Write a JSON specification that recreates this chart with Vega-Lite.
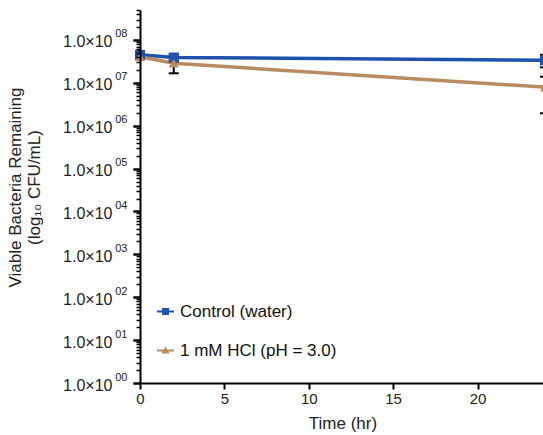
{
  "$schema": "https://vega.github.io/schema/vega-lite/v6.json",
  "width": 405,
  "height": 373,
  "autosize": {"type": "none"},
  "padding": {"left": 140, "top": 10, "right": 0, "bottom": 52},
  "config": {
    "view": {"stroke": null},
    "font": "Liberation Sans",
    "axis": {"grid": false, "domainColor": "black", "labelColor": "#222", "titleColor": "#222", "titleFontWeight": "normal", "labelFont": "Liberation Sans", "titleFont": "Liberation Sans"}
  },
  "resolve": {"axis": {"y": "independent"}},
  "data": {"values": [
    {"series": "Control (water)", "time": 0, "value": 45000000, "lo": 40000000, "hi": 50000000},
    {"series": "Control (water)", "time": 2, "value": 39000000, "lo": 32000000, "hi": 46000000},
    {"series": "Control (water)", "time": 24, "value": 33600000, "lo": 23000000, "hi": 45000000},
    {"series": "1 mM HCl (pH = 3.0)", "time": 0, "value": 40700000, "lo": 37000000, "hi": 44000000},
    {"series": "1 mM HCl (pH = 3.0)", "time": 2, "value": 28600000, "lo": 16700000, "hi": 40500000},
    {"series": "1 mM HCl (pH = 3.0)", "time": 24, "value": 7900000, "lo": 1950000, "hi": 13900000}
  ]},
  "layer": [
    {
      "mark": {"type": "line", "strokeWidth": 3.5},
      "encoding": {
        "x": {"field": "time", "type": "quantitative",
          "scale": {"domain": [0, 24], "nice": false},
          "axis": {"values": [0, 5, 10, 15, 20], "title": "Time (hr)", "titleFontSize": 17, "titlePadding": 9, "labelFontSize": 15, "tickSize": 6, "tickWidth": 2, "tickColor": "#000000", "domainWidth": 2, "labelPadding": 2, "labelFlush": false, "zindex": 1}
        },
        "y": {"field": "value", "type": "quantitative",
          "scale": {"type": "log", "domain": [1, 500000000], "nice": false},
          "axis": {
            "orient": "left", "zindex": 1,
            "title": ["Viable Bacteria Remaining", "(log₁₀ CFU/mL)"],
            "titleFontSize": 17, "titleAngle": -90, "titleBaseline": "top", "titleAlign": "center",
            "titleX": -133, "titleY": 177, "titleLineHeight": 19,
            "values": [1, 10, 100, 1000, 10000, 100000, 1000000, 10000000, 100000000],
            "labelExpr": "'1.0×10'",
            "labelFontSize": 16, "labelPadding": 21, "labelOffset": 2, "labelOverlap": false,
            "domainWidth": 2, "tickWidth": 2, "tickSize": 7, "tickColor": "#000000"
          }
        },
        "color": {"field": "series", "type": "nominal",
          "scale": {"domain": ["Control (water)", "1 mM HCl (pH = 3.0)"], "range": ["#1f52ac", "#b98b60"]}}
      }
    },
    {
      "mark": {"type": "rule", "color": "black", "strokeWidth": 2},
      "encoding": {
        "x": {"field": "time", "type": "quantitative"},
        "y": {"field": "lo", "type": "quantitative",
          "axis": {
            "orient": "left", "zindex": 1, "title": null, "domain": false,
            "values": [1, 10, 100, 1000, 10000, 100000, 1000000, 10000000, 100000000],
            "labelExpr": "'0' + format(round(log(datum.value)/LN10), 'd')",
            "labelFontSize": 11, "labelPadding": 6, "labelOffset": -6, "labelOverlap": false,
            "tickWidth": 2, "tickSize": 7, "tickColor": "#000000"
          }
        },
        "y2": {"field": "hi"}
      }
    },
    {
      "mark": {"type": "point", "shape": "stroke", "filled": false, "color": "black", "strokeWidth": 2, "opacity": 1, "size": 100},
      "encoding": {
        "x": {"field": "time", "type": "quantitative"},
        "y": {"field": "lo", "type": "quantitative",
          "axis": {
            "orient": "left", "zindex": 1, "title": null, "domain": false, "labels": false,
            "values": [2,3,4,5,6,7,8,9,20,30,40,50,60,70,80,90,200,300,400,500,600,700,800,900,2000,3000,4000,5000,6000,7000,8000,9000,20000,30000,40000,50000,60000,70000,80000,90000,200000,300000,400000,500000,600000,700000,800000,900000,2000000,3000000,4000000,5000000,6000000,7000000,8000000,9000000,20000000,30000000,40000000,50000000,60000000,70000000,80000000,90000000,200000000,300000000,400000000,500000000],
            "tickWidth": 1.5, "tickSize": 4, "tickColor": "#000000"
          }}}
    },
    {
      "mark": {"type": "point", "shape": "stroke", "filled": false, "color": "black", "strokeWidth": 2, "opacity": 1, "size": 100},
      "encoding": {
        "x": {"field": "time", "type": "quantitative"},
        "y": {"field": "hi", "type": "quantitative", "axis": null}}
    },
    {
      "mark": {"type": "point", "filled": true, "opacity": 1, "size": 100},
      "encoding": {
        "x": {"field": "time", "type": "quantitative"},
        "y": {"field": "value", "type": "quantitative", "axis": null},
        "color": {"field": "series", "type": "nominal"},
        "shape": {"condition": {"test": "datum.series === 'Control (water)'", "value": "square"}, "value": "triangle-up"}
      }
    },
    {
      "data": {"values": []},
      "mark": {"type": "point", "filled": true, "opacity": 1, "size": 100},
      "encoding": {
        "x": {"field": "time", "type": "quantitative"},
        "y": {"field": "value", "type": "quantitative", "axis": null},
        "color": {"field": "series", "type": "nominal",
          "legend": {"title": null, "orient": "none", "legendX": 17, "legendY": 293, "padding": 0, "labelFontSize": 17, "labelColor": "#111", "labelOffset": 6, "rowPadding": 21, "symbolSize": 100, "symbolStrokeWidth": 0, "labelFont": "Liberation Sans"}},
        "shape": {"field": "series", "type": "nominal",
          "scale": {"domain": ["Control (water)", "1 mM HCl (pH = 3.0)"], "range": ["M-1.7,-0.18H1.7V0.18H-1.7Z M-0.7,-0.7H0.7V0.7H-0.7Z", "M-1.7,-0.18H1.7V0.18H-1.7Z M0,-0.8L0.8,0.6H-0.8Z"]},
          "legend": {"title": null, "orient": "none", "legendX": 17, "legendY": 293, "padding": 0, "labelFontSize": 17, "labelColor": "#111", "labelOffset": 6, "rowPadding": 21, "symbolSize": 100, "symbolStrokeWidth": 0, "labelFont": "Liberation Sans"}}
      }
    }
  ]
}
